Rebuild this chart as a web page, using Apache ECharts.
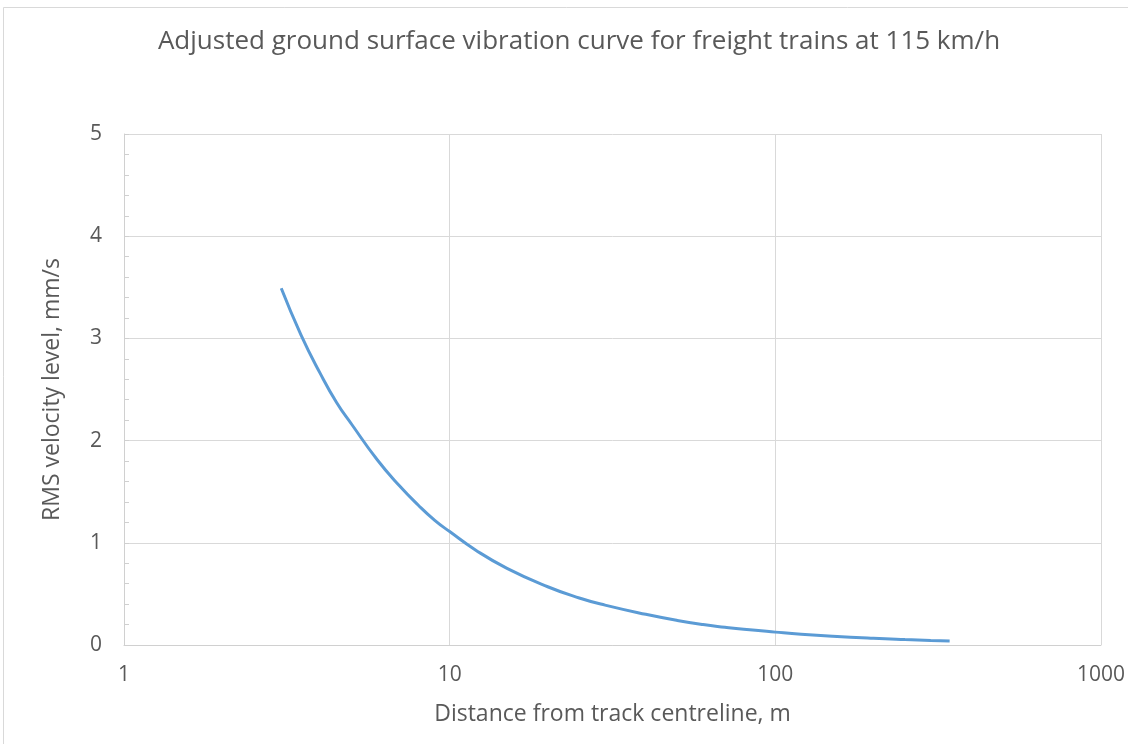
<!DOCTYPE html>
<html>
<head>
<meta charset="utf-8">
<script src="https://cdn.jsdelivr.net/npm/echarts@6/dist/echarts.min.js"></script>
<style>
html,body{margin:0;padding:0;background:#fff;}
#chart{width:1128px;height:744px;}
</style>
</head>
<body>
<div id="chart"></div>
<script>
const titleText = 'Adjusted ground surface vibration curve for freight trains at 115 km/h';
const xAxisName = 'Distance from track centreline, m';
const yAxisName = 'RMS velocity level, mm/s';
const distances = [3.04, 3.5, 4, 4.5, 5, 6, 7, 8, 9, 10, 12, 15, 20, 25, 30, 40, 50, 60, 70, 80, 100, 120, 150, 200, 250, 300, 343];
const velocities = [3.49, 3.03, 2.66, 2.37, 2.16, 1.81, 1.56, 1.37, 1.22, 1.11, 0.93, 0.75, 0.57, 0.46, 0.39, 0.30, 0.24, 0.20, 0.174, 0.154, 0.126, 0.105, 0.085, 0.065, 0.053, 0.045, 0.040];

const seriesData = distances.map((d, i) => [d, velocities[i]]);
const font = "'Open Sans', 'Liberation Sans', sans-serif";
const chart = echarts.init(document.getElementById('chart'), null, {renderer: 'canvas'});
chart.setOption({
  animation: false,
  backgroundColor: '#ffffff',
  title: {
    text: titleText,
    left: 574, top: 24, textAlign: 'center',
    textStyle: {fontFamily: font, fontSize: 26, fontWeight: 'normal', color: '#595959'}
  },
  graphic: [{
    type: 'rect', silent: true, z: -1,
    shape: {x: 3.5, y: 7.5, width: 1300, height: 900},
    style: {fill: 'none', stroke: '#d9d9d9', lineWidth: 1}
  }],
  grid: {left: 124, right: 23, top: 134, bottom: 99, containLabel: false},
  xAxis: {
    type: 'log', logBase: 10, min: 1, max: 1000,
    name: xAxisName, nameLocation: 'middle', nameGap: 58,
    nameTextStyle: {fontFamily: font, fontSize: 23, color: '#595959'},
    axisLine: {show: true, lineStyle: {color: '#d0d0d0', width: 1}},
    axisTick: {show: false},
    axisLabel: {fontFamily: font, fontSize: 21, color: '#595959', margin: 20, showMaxLabel: true,
      formatter: v => String(Math.round(v))},
    splitLine: {show: true, lineStyle: {color: '#d9d9d9', width: 1}}
  },
  yAxis: {
    type: 'value', min: 0, max: 5, interval: 1,
    name: yAxisName, nameLocation: 'middle', nameGap: 60, nameRotate: 90,
    nameTextStyle: {fontFamily: font, fontSize: 23, color: '#595959'},
    axisLine: {show: true, lineStyle: {color: '#d0d0d0', width: 1}},
    axisTick: {show: true, inside: true, length: 5, lineStyle: {color: '#d0d0d0'}},
    minorTick: {show: true, splitNumber: 5, length: 5, lineStyle: {color: '#d0d0d0'}},
    axisLabel: {fontFamily: font, fontSize: 21, color: '#595959', margin: 22},
    splitLine: {show: true, lineStyle: {color: '#d9d9d9', width: 1}}
  },
  series: [{
    type: 'line',
    data: seriesData,
    smooth: true,
    showSymbol: false,
    lineStyle: {color: '#5b9bd5', width: 3},
    itemStyle: {color: '#5b9bd5'}
  }]
});
</script>
</body>
</html>
